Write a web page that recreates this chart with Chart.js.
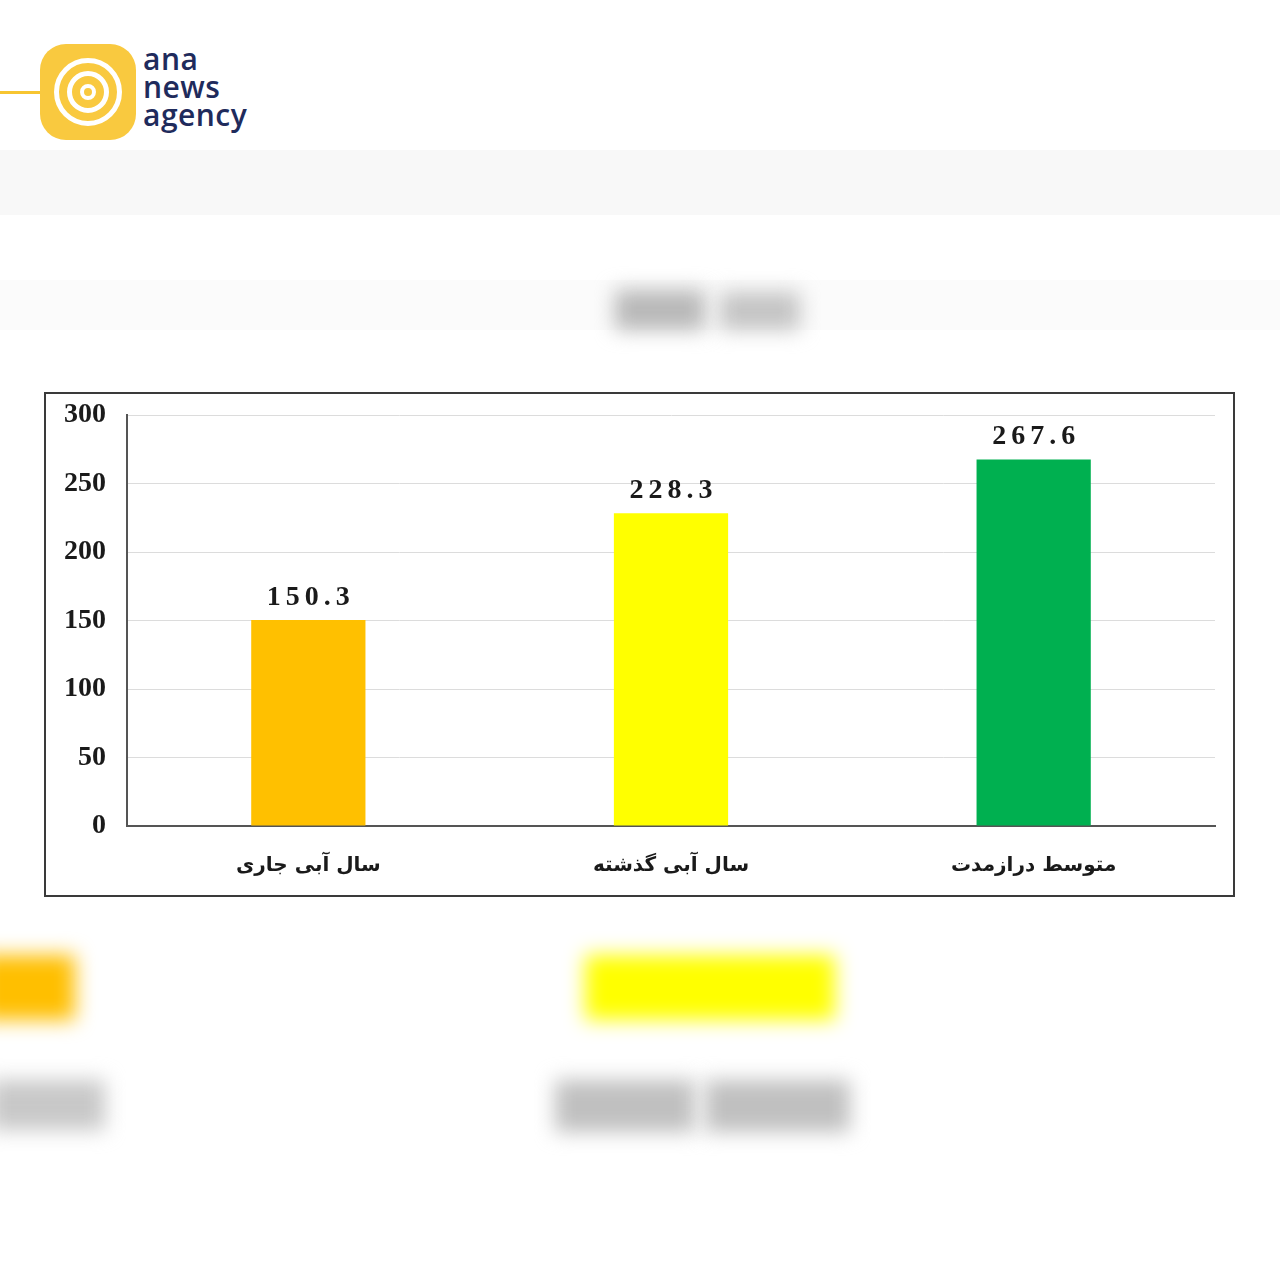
<!DOCTYPE html>
<html lang="fa">
<head>
    <meta charset="UTF-8">
    <title>بارش</title>
    <script src="https://cdn.jsdelivr.net/npm/chart.js"></script>
    <style>
        body {
            margin: 0;
            width: 1280px;
            height: 1280px;
            background: #ffffff;
            position: relative;
            overflow: hidden;
            font-family: "DejaVu Sans", sans-serif;
        }
        .blur { position: absolute; filter: blur(10px); }
        .logo-line {
            position: absolute; left: 0; top: 91px; width: 48px; height: 3px; background: #f7c531;
        }
        .logo-box {
            position: absolute; left: 40px; top: 44px; width: 96px; height: 96px;
            border-radius: 26px; background: #f9c93f;
        }
        .ring {
            position: absolute; border-radius: 50%; border: 5px solid #ffffff; box-sizing: border-box;
        }
        .logo-text {
            position: absolute; left: 143px; top: 45px;
            font-family: "Open Sans", sans-serif; font-size: 30px; line-height: 28px;
            letter-spacing: 0.5px; color: #1f2b5c; font-weight: 600;
        }
        .frame {
            position: absolute; left: 44px; top: 392px; width: 1187px; height: 501px;
            border: 2px solid #3a3a3a; background: #ffffff;
        }
    </style>
</head>
<body>
<!-- header logo -->
<div class="logo-line"></div>
<div class="logo-box">
    <div class="ring" style="left:14px;top:14px;width:68px;height:68px;"></div>
    <div class="ring" style="left:27px;top:27px;width:42px;height:42px;"></div>
    <div class="ring" style="left:40px;top:40px;width:16px;height:16px;border-width:4px;"></div>
</div>
<div class="logo-text">ana<br>news<br>agency</div>

<!-- blurred background pieces -->
<div style="position:absolute;left:0;top:150px;width:1280px;height:65px;background:#f8f8f8;"></div>
<div style="position:absolute;left:0;top:280px;width:1280px;height:50px;background:#fbfbfb;"></div>
<div class="blur" style="left:615px;top:290px;width:90px;height:40px;background:#b8b8b8;"></div>
<div class="blur" style="left:720px;top:292px;width:80px;height:38px;background:#c4c4c4;"></div>
<div class="blur" style="left:-20px;top:955px;width:95px;height:65px;background:#ffbf00;"></div>
<div class="blur" style="left:585px;top:955px;width:250px;height:65px;background:#ffff00;"></div>
<div class="blur" style="left:-10px;top:1080px;width:115px;height:50px;background:#c8c8c8;"></div>
<div class="blur" style="left:555px;top:1080px;width:140px;height:52px;background:#c0c0c0;"></div>
<div class="blur" style="left:705px;top:1080px;width:145px;height:52px;background:#c0c0c0;"></div>

<div class="frame">
    <canvas id="rainChart" width="1187" height="501"></canvas>
</div>

<script>
    const categories = ['سال آبی جاری', 'سال آبی گذشته', 'متوسط درازمدت'];
    const rainValues = [150.3, 228.3, 267.6];
    const barColors = ['#ffc000', '#ffff00', '#00b050'];
    const yTicks = [0, 50, 100, 150, 200, 250, 300];

    // values above the bars
    const valueLabels = {
        id: 'valueLabels',
        afterDatasetsDraw(chart) {
            const ctx = chart.ctx;
            const meta = chart.getDatasetMeta(0);
            ctx.save();
            ctx.font = 'bold 28px "Liberation Serif", serif';
            ctx.fillStyle = '#1a1a1a';
            ctx.textAlign = 'center';
            ctx.textBaseline = 'alphabetic';
            ctx.letterSpacing = '5px';
            meta.data.forEach((bar, i) => {
                ctx.fillText(rainValues[i].toFixed(1), bar.x + 2.5, bar.y - 15);
            });
            ctx.restore();
        }
    };

    const ctx = document.getElementById('rainChart').getContext('2d');
    new Chart(ctx, {
        type: 'bar',
        data: {
            labels: categories,
            datasets: [{
                data: rainValues,
                backgroundColor: barColors,
                borderWidth: 0,
                barPercentage: 0.315,
                categoryPercentage: 1
            }]
        },
        options: {
            responsive: false,
            animation: false,
            layout: { padding: { top: 21, right: 18, left: 0, bottom: 0 } },
            plugins: {
                legend: { display: false },
                tooltip: { enabled: false }
            },
            scales: {
                x: {
                    grid: { display: false },
                    border: { display: true, color: '#555555', width: 2 },
                    ticks: {
                        color: '#1a1a1a',
                        padding: 20,
                        font: { family: '"DejaVu Sans", sans-serif', size: 20, weight: 'bold' }
                    },
                    afterFit(scale) { scale.height = 69; }
                },
                y: {
                    min: 0,
                    max: 300,
                    afterBuildTicks(scale) {
                        scale.ticks = yTicks.map(v => ({ value: v }));
                    },
                    grid: { color: '#dcdcdc', lineWidth: 1, drawTicks: false },
                    border: { display: true, color: '#555555', width: 2 },
                    ticks: {
                        color: '#1a1a1a',
                        padding: 21,
                        font: { family: '"Liberation Serif", serif', size: 28, weight: 'bold' }
                    },
                    afterFit(scale) {
                        scale.width = 81;
                        scale.paddingTop = 0;
                        scale.paddingBottom = 0;
                    }
                }
            }
        },
        plugins: [valueLabels]
    });
</script>
</body>
</html>
